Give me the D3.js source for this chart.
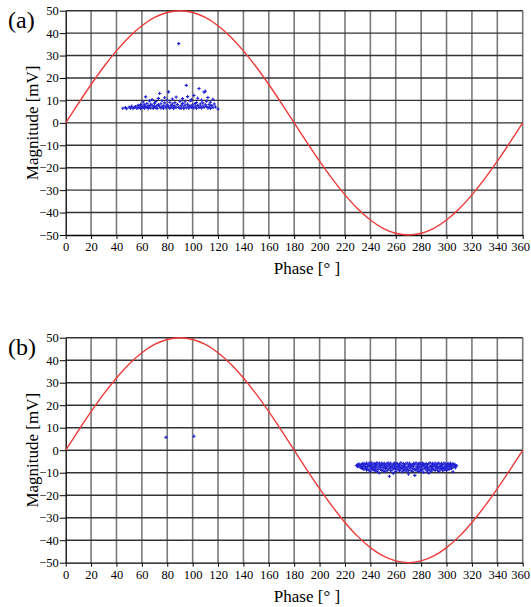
<!DOCTYPE html>
<html><head><meta charset="utf-8">
<script src="https://cdn.jsdelivr.net/npm/d3@7"></script>
</head>
<body style="margin:0;background:#fff"><svg id="chart" width="531" height="607"></svg>
<script>
// ---- data ----
const xTicks = [0,20,40,60,80,100,120,140,160,180,200,220,240,260,280,300,320,340,360];
const yTicks = [50,40,30,20,10,0,-10,-20,-30,-40,-50];
const curvePhase = [0,10,20,30,40,50,60,70,80,90,100,110,120,130,140,150,160,170,180,190,200,210,220,230,240,250,260,270,280,290,300,310,320,330,340,350,360];
const curveMag = [0,8.7,17.1,25,32.1,38.3,43.3,47,49.2,50,49.2,47,43.3,38.3,32.1,25,17.1,8.7,0,-8.7,-17.1,-25,-32.1,-38.3,-43.3,-47,-49.2,-50,-49.2,-47,-43.3,-38.3,-32.1,-25,-17.1,-8.7,0];
const pointsA = [[45,6.5],[47,6.8],[48,6.3],[50,7.0],[51,6.6],[52,7.4],[53,6.4],[54,6.9],[55,7.2],[56,6.5],[57,7.8],[57,6.7],[58,7.1],[59,6.4],[59,8.2],[60,7.5],[60,6.8],[61,9.3],[61,7.0],[62,6.5],[62,8.0],[63,7.3],[63,11.6],[64,6.9],[64,8.6],[65,7.6],[65,6.4],[66,9.8],[66,7.2],[67,8.3],[67,6.6],[68,7.9],[68,10.4],[69,7.0],[69,6.5],[70,8.8],[70,7.4],[71,6.8],[71,9.5],[72,7.7],[72,6.4],[73,8.1],[73,10.9],[74,13.1],[74,7.2],[75,6.6],[75,8.5],[76,9.9],[76,7.0],[77,7.6],[77,6.5],[78,8.9],[78,11.2],[79,7.3],[79,6.7],[80,8.0],[80,10.1],[81,13.8],[81,7.1],[82,6.5],[82,9.2],[83,7.8],[83,6.9],[84,8.4],[84,10.6],[85,7.2],[85,6.4],[86,9.0],[86,7.5],[87,6.8],[87,11.5],[88,8.2],[89,35.3],[89,7.0],[90,6.5],[90,9.6],[91,7.7],[91,6.6],[92,8.7],[92,10.8],[93,7.1],[93,6.4],[94,9.4],[94,7.9],[95,16.7],[95,6.7],[96,8.3],[96,11.7],[97,7.3],[97,6.5],[98,9.8],[98,7.6],[99,6.9],[99,10.3],[100,8.0],[100,7.0],[101,12.2],[101,6.6],[102,8.6],[102,7.4],[103,9.1],[103,6.5],[104,11.0],[104,7.8],[105,6.8],[105,15.3],[106,8.4],[106,7.2],[107,10.1],[107,6.6],[108,8.9],[108,7.5],[109,13.7],[109,6.9],[110,14.1],[110,8.1],[111,7.3],[111,9.7],[112,6.6],[112,11.3],[113,8.2],[113,7.0],[114,6.5],[114,9.2],[115,7.7],[116,10.5],[116,6.8],[117,8.4],[118,7.1],[120,6.2]];
const pointsB = [[79,5.7],[101,6.2],
[229,-6.8],[230,-6.4],[230,-7.3],[231,-7.0],[231,-6.1],[232,-7.6],[232,-6.6],[233,-6.3],[233,-7.9],[233,-7.1],[234,-8.2],[234,-6.0],[234,-7.4],[235,-6.7],[235,-8.5],[235,-5.9],[236,-7.2],[236,-8.0],[236,-6.3],[237,-5.8],[237,-7.7],[237,-8.8],[238,-6.5],[238,-7.1],[238,-8.4],[239,-5.7],[239,-8.9],[239,-6.9],[240,-7.5],[240,-6.2],[240,-9.3],[241,-8.1],[241,-5.6],[241,-7.0],[242,-6.6],[242,-8.6],[242,-7.8],[243,-5.9],[243,-7.3],[243,-9.0],[244,-8.3],[244,-6.4],[244,-7.6],[245,-5.6],[245,-9.4],[245,-6.9],[246,-7.9],[246,-6.1],[246,-8.7],[247,-7.2],[247,-5.8],[247,-10.1],[248,-6.5],[248,-8.4],[248,-7.5],[249,-9.0],[249,-5.7],[249,-6.8],[250,-7.7],[250,-8.8],[250,-6.2],[251,-5.9],[251,-7.1],[251,-9.5],[252,-8.2],[252,-6.6],[252,-7.9],[253,-6.0],[253,-9.2],[253,-7.4],[254,-7.0],[254,-8.5],[254,-5.6],[255,-11.6],[255,-6.4],[255,-8.0],[256,-7.6],[256,-5.8],[256,-9.1],[257,-8.9],[257,-6.9],[257,-7.3],[258,-6.2],[258,-8.1],[258,-10.3],[259,-7.8],[259,-5.7],[259,-6.6],[260,-9.4],[260,-7.2],[260,-8.4],[261,-6.0],[261,-7.9],[261,-5.9],[262,-8.7],[262,-6.7],[262,-7.5],[263,-7.0],[263,-9.0],[263,-6.3],[264,-5.6],[264,-8.2],[264,-7.7],[265,-6.8],[265,-9.6],[265,-8.0],[266,-7.4],[266,-5.9],[266,-8.8],[267,-8.5],[267,-6.5],[267,-7.1],[268,-6.1],[268,-9.3],[268,-7.8],[269,-7.6],[269,-5.7],[269,-8.6],[270,-9.1],[270,-6.9],[270,-10.6],[271,-5.8],[271,-8.0],[271,-7.3],[272,-7.2],[272,-8.9],[272,-6.4],[273,-6.7],[273,-9.5],[273,-7.9],[274,-8.3],[274,-5.9],[274,-7.0],[275,-11.2],[275,-6.2],[275,-8.6],[276,-7.5],[276,-5.6],[276,-9.0],[277,-6.6],[277,-8.2],[277,-7.8],[278,-9.4],[278,-7.1],[278,-6.0],[279,-5.8],[279,-8.7],[279,-7.4],[280,-7.9],[280,-6.4],[280,-9.2],[281,-8.5],[281,-6.9],[281,-5.7],[282,-7.0],[282,-9.8],[282,-6.2],[283,-6.3],[283,-8.1],[283,-7.6],[284,-8.8],[284,-5.9],[284,-7.2],[285,-7.7],[285,-9.1],[285,-6.6],[286,-6.0],[286,-8.4],[286,-10.2],[287,-7.3],[287,-5.6],[287,-8.9],[288,-9.3],[288,-6.8],[288,-7.9],[289,-5.9],[289,-7.5],[289,-8.3],[290,-8.6],[290,-6.3],[290,-7.0],[291,-7.1],[291,-9.0],[291,-5.7],[292,-6.5],[292,-8.0],[292,-7.7],[293,-8.9],[293,-6.0],[293,-7.3],[294,-5.8],[294,-7.9],[294,-9.5],[295,-7.4],[295,-6.6],[295,-8.5],[296,-8.2],[296,-5.9],[296,-6.9],[297,-6.4],[297,-7.6],[297,-9.1],[298,-7.8],[298,-5.7],[298,-8.7],[299,-6.1],[299,-8.3],[299,-7.2],[300,-9.0],[300,-6.8],[300,-7.5],[301,-5.9],[301,-8.0],[301,-6.5],[302,-7.3],[302,-6.2],[302,-8.6],[303,-6.7],[303,-7.9],[303,-5.8],[304,-8.1],[304,-6.4],[304,-7.0],[305,-6.0],[305,-7.5],[305,-9.6],[306,-7.2],[306,-6.3],[307,-6.6],[307,-7.8],[308,-6.9]];
const panels = [{label:"(a)", top:10.7, bottom:235, points:pointsA},
                {label:"(b)", top:337.7, bottom:562.7, points:pointsB}];

// ---- drawing ----
const FONT = '"Liberation Serif"';
const svg = d3.select("#chart");
const x = d3.scaleLinear().domain([0,360]).range([65.7,522.7]);

panels.forEach(p => {
  const y = d3.scaleLinear().domain([-50,50]).range([p.bottom,p.top]);
  const g = svg.append("g");
  g.selectAll("line.vg").data(xTicks.slice(1)).enter().append("line")
    .attr("x1",d=>x(d)).attr("x2",d=>x(d)).attr("y1",p.top).attr("y2",p.bottom)
    .attr("stroke","#7a7a7a").attr("stroke-width",1.6);
  g.selectAll("line.hg").data(yTicks.slice(0,-1)).enter().append("line")
    .attr("x1",x(0)).attr("x2",x(360)).attr("y1",d=>y(d)).attr("y2",d=>y(d))
    .attr("stroke","#333").attr("stroke-width",1.4);
  const ya = g.append("g").attr("transform",`translate(${x(0)},0)`)
    .call(d3.axisLeft(y).tickValues(yTicks).tickSize(6).tickPadding(1).tickSizeOuter(0));
  const xa = g.append("g").attr("transform",`translate(0,${p.bottom})`)
    .call(d3.axisBottom(x).tickValues(xTicks).tickSize(4).tickPadding(3).tickSizeOuter(0));
  [ya,xa].forEach(a=>{
    a.attr("font-family",null).attr("font-size",null);
    a.select(".domain").attr("stroke","#000").attr("stroke-width",1.3);
    a.selectAll(".tick line").attr("stroke","#000").attr("stroke-width",1);
    a.selectAll("text").attr("fill","#000").style("font-family",FONT).style("font-size","12.5px");
  });
  xa.selectAll(".tick text").filter(d=>d===360).attr("dx",-2.5);
  const line = d3.line().x((d,i)=>x(curvePhase[i])).y(d=>y(d)).curve(d3.curveMonotoneX);
  g.append("path").datum(curveMag).attr("d",line)
    .attr("fill","none").attr("stroke","#ee3a3a").attr("stroke-width",1.4);
  const sym = d3.symbol().type(d3.symbolCross).size(6);
  g.selectAll("path.pt").data(p.points).enter().append("path")
    .attr("transform",d=>`translate(${x(d[0])},${y(d[1])})`)
    .attr("d",sym).attr("fill","#2222d4");
  g.append("text").attr("x",8).attr("y",p.top+17).style("font-family",FONT).style("font-size","24px").text(p.label);
  g.append("text").attr("x",307).attr("y",p.bottom+39).style("font-family",FONT)
    .attr("text-anchor","middle").style("font-size","17px").text("Phase [° ]");
  g.append("text").attr("transform",`translate(37.5,${(p.top+p.bottom)/2}) rotate(-90)`).style("font-family",FONT)
    .attr("text-anchor","middle").style("font-size","17px").text("Magnitude [mV]");
});
</script></body></html>
